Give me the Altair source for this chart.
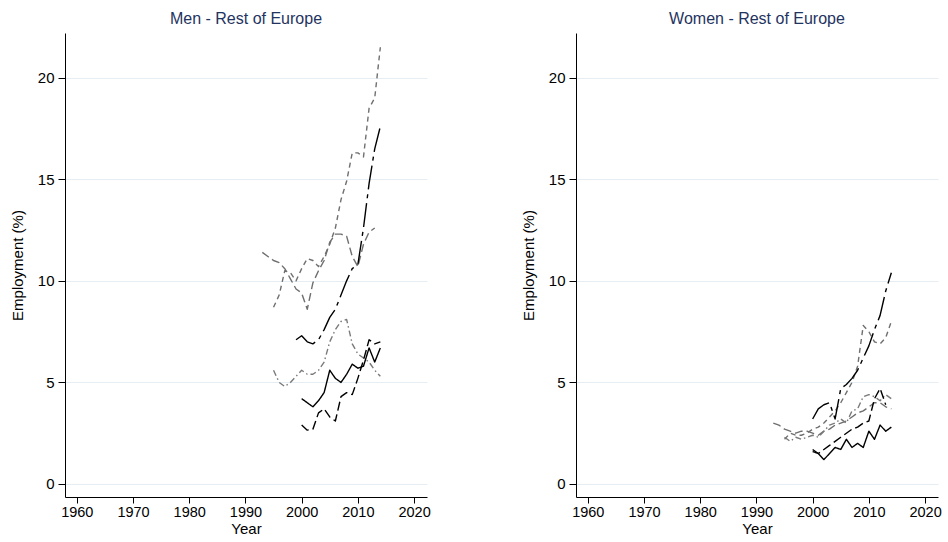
import altair as alt
import pandas as pd

# Year ranges of the series
years_93_13 = [1993, 1994, 1995, 1996, 1997, 1998, 1999, 2000, 2001, 2002, 2003,
               2004, 2005, 2006, 2007, 2008, 2009, 2010, 2011, 2012, 2013]
years_93_14 = years_93_13 + [2014]
years_95_14 = [1995, 1996, 1997, 1998, 1999, 2000, 2001, 2002, 2003, 2004, 2005,
               2006, 2007, 2008, 2009, 2010, 2011, 2012, 2013, 2014]
years_99_14 = [1999, 2000, 2001, 2002, 2003, 2004, 2005, 2006, 2007, 2008, 2009,
               2010, 2011, 2012, 2013, 2014]
years_00_13 = [2000, 2001, 2002, 2003, 2004, 2005, 2006, 2007, 2008, 2009, 2010,
               2011, 2012, 2013]
years_00_14 = years_00_13 + [2014]

# Men - employment share (%)
men_solid = [4.2, 4.0, 3.8, 4.1, 4.5, 5.6, 5.2, 5.0, 5.4, 5.9, 5.7, 5.8, 6.7, 6.0, 6.7]
men_longdash = [2.9, 2.65, 2.7, 3.5, 3.7, 3.3, 3.1, 4.3, 4.5, 4.4, 5.2, 6.1, 7.1, 6.9, 7.0]
men_dashdot = [7.1, 7.3, 7.0, 6.9, 7.1, 7.6, 8.2, 8.6, 9.3, 10.0, 10.6, 10.8, 12.6,
               14.8, 16.5, 17.6]
men_gray_short = [8.7, 9.3, 10.5, 10.4, 10.0, 10.6, 11.1, 11.0, 10.7, 11.2, 11.8, 12.6,
                  14.0, 14.9, 16.3, 16.3, 16.1, 18.5, 19.0, 21.5]
men_gray_long = [11.4, 11.2, 11.0, 10.9, 10.6, 10.1, 9.6, 9.4, 8.6, 9.9, 10.5, 11.0,
                 11.9, 12.3, 12.3, 12.2, 11.2, 10.7, 11.8, 12.4, 12.6]
men_gray_dashdot = [5.6, 5.0, 4.8, 5.0, 5.3, 5.6, 5.4, 5.4, 5.6, 6.0, 7.0, 7.6, 8.0,
                    8.1, 6.9, 6.4, 6.2, 6.0, 5.6, 5.3]

# Women - employment share (%)
women_solid = [1.6, 1.5, 1.2, 1.5, 1.8, 1.7, 2.2, 1.8, 2.0, 1.8, 2.6, 2.2, 2.9, 2.6, 2.8]
women_longdash = [1.7, 1.5, 1.7, 1.9, 2.1, 2.3, 2.5, 2.7, 2.8, 3.0, 3.1, 4.2, 4.7, 3.9]
women_dashdot = [3.2, 3.7, 3.9, 4.0, 3.2, 4.7, 4.9, 5.2, 5.6, 6.2, 6.8, 7.6, 8.3, 9.5, 10.4]
women_gray_short = [2.2, 2.5, 2.4, 2.4, 2.5, 2.7, 2.8, 3.0, 3.3, 3.6, 4.0, 4.5, 5.0,
                    5.8, 7.8, 7.5, 7.0, 6.9, 7.2, 8.0]
women_gray_long = [3.0, 2.9, 2.7, 2.6, 2.5, 2.6, 2.6, 2.5, 2.4, 2.6, 2.7, 2.9, 3.0,
                   3.1, 3.3, 3.5, 3.6, 3.8, 4.0, 4.0, 3.8, 3.7]
women_gray_dashdot = [2.3, 2.1, 2.3, 2.2, 2.3, 2.4, 2.3, 2.6, 2.9, 3.0, 3.2, 3.0, 3.6,
                      3.7, 4.3, 4.4, 4.3, 4.1, 4.4, 4.2]

# Line styles, drawn in this order
series_names = ["gray_long", "gray_short", "gray_dashdot", "longdash", "solid", "dashdot"]
series_colors = ["#6f6f6f", "#6f6f6f", "#7a7a7a", "#000000", "#000000", "#000000"]
series_dashes = [[8, 4], [5, 4], [6, 3, 1.5, 3], [9, 4], [1, 0], [24, 5, 4, 5]]
series_widths = [1.4, 1.4, 1.3, 2.4, 2.4, 2.6]

x_ticks = [1960, 1970, 1980, 1990, 2000, 2010, 2020]
y_ticks = [0, 5, 10, 15, 20]
FONT = "Liberation Sans"


def frame(groups):
    rows = []
    for name, years, values in groups:
        for yr, v in zip(years, values):
            rows.append({"series": name, "year": yr, "value": v})
    return pd.DataFrame(rows)


men_df = frame([
    ("gray_long", years_93_13, men_gray_long),
    ("gray_short", years_95_14, men_gray_short),
    ("gray_dashdot", years_95_14, men_gray_dashdot),
    ("longdash", years_00_14, men_longdash),
    ("solid", years_00_14, men_solid),
    ("dashdot", years_99_14, men_dashdot),
])

women_df = frame([
    ("gray_long", years_93_14, women_gray_long),
    ("gray_short", years_95_14, women_gray_short),
    ("gray_dashdot", years_95_14, women_gray_dashdot),
    ("longdash", years_00_13, women_longdash),
    ("solid", years_00_14, women_solid),
    ("dashdot", years_00_14, women_dashdot),
])


def panel(df, title):
    return alt.Chart(df).mark_line(strokeCap="butt", strokeJoin="round").encode(
        x=alt.X("year:Q",
                scale=alt.Scale(domain=[1957.9, 2022.3], nice=False, zero=False),
                axis=alt.Axis(values=x_ticks, format="d", title="Year", grid=False,
                              tickSize=6, labelPadding=2, titlePadding=3,
                              labelFontSize=14.5)),
        y=alt.Y("value:Q",
                scale=alt.Scale(domain=[-0.64, 22.2], nice=False, zero=False),
                axis=alt.Axis(values=y_ticks, format="d", title="Employment (%)",
                              grid=True, tickSize=7, labelPadding=4, titlePadding=12)),
        detail="series:N",
        order=alt.Order("year:Q"),
        color=alt.Color("series:N", legend=None,
                        scale=alt.Scale(domain=series_names, range=series_colors)),
        strokeDash=alt.StrokeDash("series:N", legend=None,
                                  scale=alt.Scale(domain=series_names, range=series_dashes)),
        strokeWidth=alt.StrokeWidth("series:N", legend=None,
                                    scale=alt.Scale(domain=series_names, range=series_widths)),
    ).properties(
        width=362, height=464,
        title=alt.Title(title, fontSize=16, font=FONT, fontWeight="normal",
                        color="#1f3461", offset=6),
    )


chart = alt.hconcat(
    panel(men_df, "Men - Rest of Europe"),
    panel(women_df, "Women - Rest of Europe"),
    spacing=90,
).properties(
    padding={"left": 10, "top": 11, "right": 0, "bottom": 0},
    background="white",
).configure_view(stroke=None).configure_axis(
    labelFont=FONT, titleFont=FONT, labelFontSize=15, titleFontSize=15,
    labelColor="#000000", titleColor="#000000", titleFontWeight="normal",
    domainColor="#000000", tickColor="#000000", domainWidth=1, tickWidth=1,
    gridColor="#e7eef3", gridWidth=1,
)

chart.save("out.html", embed_options={"renderer": "svg", "actions": False})
